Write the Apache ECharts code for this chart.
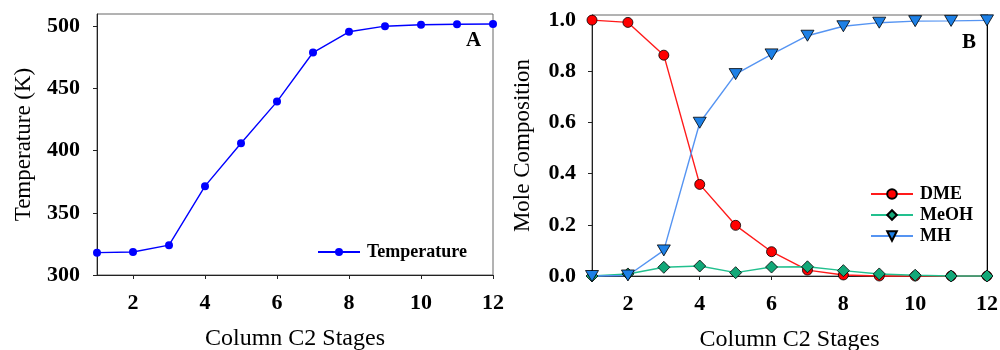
<!DOCTYPE html>
<html>
<head>
<meta charset="utf-8">
<script src="https://cdn.jsdelivr.net/npm/echarts@6/dist/echarts.min.js"></script>
<style>
html,body{margin:0;padding:0;background:#fff;}
#c{width:1000px;height:350px;}
</style>
</head>
<body>
<div id="c"></div>
<script>
// ---- data ----
const stages = [1, 2, 3, 4, 5, 6, 7, 8, 9, 10, 11, 12];
const temperature = [318, 318.5, 324, 371.5, 406, 439.5, 479, 495.7, 500.2, 501.3, 501.8, 502];
const dme  = [1.0, 0.991, 0.863, 0.358, 0.198, 0.095, 0.023, 0.004, 0.0, 0.0, 0.0, 0.0];
const meoh = [0.0, 0.008, 0.034, 0.039, 0.013, 0.035, 0.036, 0.021, 0.008, 0.003, 0.0, 0.0];
const mh   = [0.0, 0.002, 0.10, 0.599, 0.789, 0.866, 0.939, 0.976, 0.99, 0.996, 0.997, 0.999];
const xTicks = [2, 4, 6, 8, 10, 12];
const tempTicks = [300, 350, 400, 450, 500];
const compTicks = [0, 0.2, 0.4, 0.6, 0.8, 1.0];

const pair = (ys) => stages.map((x, i) => [x, ys[i]]);
const serif = '"Liberation Serif", "DejaVu Serif", serif';

const tickLabel = {fontFamily: serif, fontWeight: 'bold', fontSize: 22, color: '#000'};
const xTitle = {fontFamily: serif, fontSize: 24, color: '#000'};
const yTitle = {fontFamily: serif, fontSize: 23, color: '#000'};

function xAxis(grid) {
  return {
    type: 'value', gridIndex: grid, min: 1, max: 12,
    name: 'Column C2 Stages', nameLocation: 'middle', nameGap: 52, nameTextStyle: xTitle,
    axisLine: {show: true, lineStyle: {color: '#222', width: 1}},
    axisTick: {show: true, inside: false, length: 4, customValues: xTicks, lineStyle: {color: '#222'}},
    axisLabel: {customValues: xTicks, margin: 17, ...tickLabel},
    splitLine: {show: false}
  };
}

const chart = echarts.init(document.getElementById('c'), null, {renderer: 'canvas'});
chart.setOption({
  animation: false,
  backgroundColor: '#fff',
  grid: [
    {left: 97, top: 14, width: 396, height: 261, show: true, borderColor: '#666', borderWidth: 1, containLabel: false, outerBoundsMode: 'none'},
    {left: 592, top: 15, width: 395, height: 261, show: true, borderColor: '#666', borderWidth: 1, containLabel: false, outerBoundsMode: 'none'}
  ],
  xAxis: [xAxis(0), xAxis(1)],
  yAxis: [
    {
      type: 'value', gridIndex: 0, min: 300, max: 510, interval: 50,
      name: 'Temperature (K)', nameLocation: 'middle', nameGap: 62, nameTextStyle: yTitle,
      axisLine: {show: true, lineStyle: {color: '#222'}},
      axisTick: {show: true, length: 4, customValues: tempTicks, lineStyle: {color: '#222'}},
      axisLabel: {customValues: tempTicks, margin: 17, ...tickLabel},
      splitLine: {show: false}
    },
    {
      type: 'value', gridIndex: 1, min: 0, max: 1.02, interval: 0.2,
      name: 'Mole Composition', nameLocation: 'middle', nameGap: 58, nameTextStyle: yTitle,
      axisLine: {show: true, lineStyle: {color: '#222'}},
      axisTick: {show: true, length: 4, customValues: compTicks, lineStyle: {color: '#222'}},
      axisLabel: {customValues: compTicks, margin: 16, formatter: v => v.toFixed(1), ...tickLabel},
      splitLine: {show: false}
    },
    {
      type: 'value', gridIndex: 1, min: 0, max: 1.02, position: 'right',
      axisLine: {show: true, lineStyle: {color: '#000'}},
      axisTick: {show: false}, axisLabel: {show: false}, splitLine: {show: false}
    }
  ],
  legend: [
    {
      data: ['Temperature'], left: 312, top: 238, itemWidth: 42, itemHeight: 10,
      textStyle: {fontFamily: serif, fontWeight: 'bold', fontSize: 18, color: '#000', padding: [0, 0, 0, 2]}
    },
    {
      data: ['DME', 'MeOH', 'MH'], orient: 'vertical', left: 865, top: 180,
      itemWidth: 42, itemHeight: 12, itemGap: 3,
      textStyle: {fontFamily: serif, fontWeight: 'bold', fontSize: 18, color: '#000', padding: [0, 0, 0, 2]}
    }
  ],
  graphic: [
    {type: 'text', left: 466, top: 30, style: {text: 'A', font: 'bold 21px ' + serif, fill: '#000'}},
    {type: 'text', left: 962, top: 32, style: {text: 'B', font: 'bold 21px ' + serif, fill: '#000'}}
  ],
  series: [
    {
      name: 'Temperature', type: 'line', xAxisIndex: 0, yAxisIndex: 0, data: pair(temperature),
      symbol: 'circle', symbolSize: 8, clip: false,
      lineStyle: {color: '#0000ff', width: 1.4}, itemStyle: {color: '#0000ff'}
    },
    {
      name: 'DME', type: 'line', xAxisIndex: 1, yAxisIndex: 1, data: pair(dme),
      symbol: 'circle', symbolSize: 10, clip: false,
      lineStyle: {color: '#ff1a1a', width: 1.4}, itemStyle: {color: '#ff0000', borderColor: '#000', borderWidth: 0.8}
    },
    {
      name: 'MeOH', type: 'line', xAxisIndex: 1, yAxisIndex: 1, data: pair(meoh),
      symbol: 'diamond', symbolSize: 12, clip: false,
      lineStyle: {color: '#22c08e', width: 1.4}, itemStyle: {color: '#12a878', borderColor: '#000', borderWidth: 0.8}
    },
    {
      name: 'MH', type: 'line', xAxisIndex: 1, yAxisIndex: 1, data: pair(mh),
      symbol: 'triangle', symbolRotate: 180, symbolSize: [13, 11], clip: false,
      lineStyle: {color: '#5594f2', width: 1.4}, itemStyle: {color: '#1d80e6', borderColor: '#000', borderWidth: 0.8}
    }
  ]
});
</script>
</body>
</html>
